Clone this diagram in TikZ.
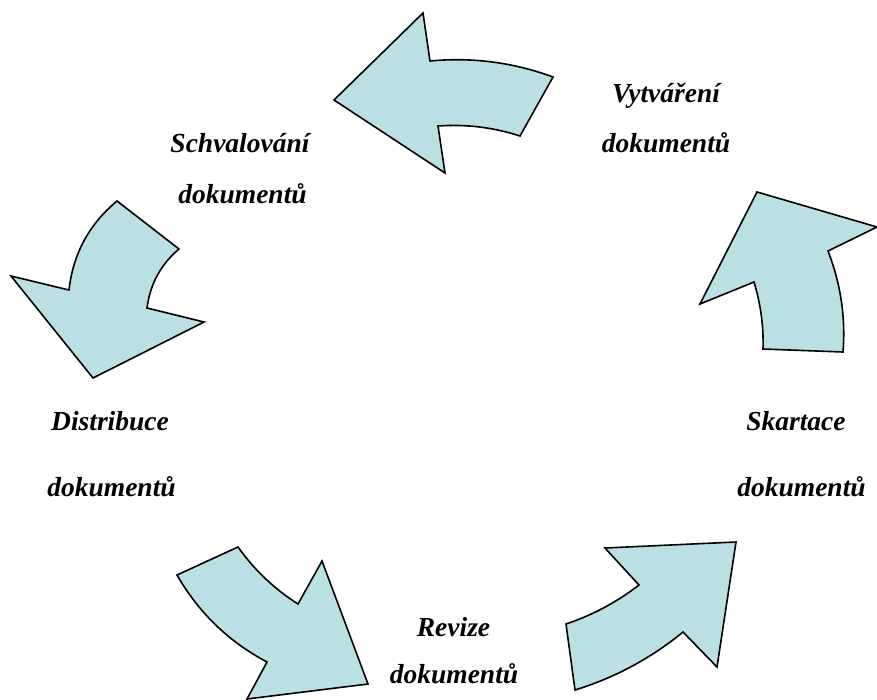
\documentclass[tikz,border=0pt]{standalone}
\usepackage{fontspec}
\setmainfont{Liberation Serif}
\definecolor{arrowfill}{RGB}{187,224,227}
\tikzset{
  cyclearrow/.style={draw=black, fill=arrowfill, line width=1.6pt, line join=miter},
  lbl/.style={font=\fontsize{27.5}{31}\selectfont\bfseries\itshape, inner sep=0pt, anchor=center}
}
\begin{document}
\begin{tikzpicture}[x=1pt,y=-1pt]
\useasboundingbox (0,0) rectangle (877,699);
\clip (0,0) rectangle (877,699);
% top arrow (pointing left)
\draw[cyclearrow] (334,100) -- (423,13) -- (430,61) .. controls (472,57) and (513,62.3) .. (553,77)
  -- (520,136) .. controls (493.3,127.3) and (466,124) .. (438,126) -- (445,173) -- cycle;
% right arrow (pointing up)
\draw[cyclearrow] (757,192) -- (877,227) -- (828,251) .. controls (840.7,283.7) and (845.7,317.3) .. (843,352)
  -- (763,349) .. controls (763.7,326.3) and (760.7,304) .. (754,282) -- (700,304) -- cycle;
% left arrow (pointing down)
\draw[cyclearrow] (117,201) -- (179,249) .. controls (160.7,264.5) and (150.1,284.2) .. (147,308) -- (204,322)
  -- (93,378) -- (11,276) -- (69,290) .. controls (73,254) and (89,224.3) .. cycle;
% bottom-left arrow (pointing down-right)
\draw[cyclearrow] (238,547) .. controls (254.3,569.9) and (274.3,588.9) .. (298,604) -- (322,561) -- (368,684)
  -- (247,699) -- (267,662) .. controls (228.7,641.7) and (198.7,612.7) .. (177,575) -- cycle;
% bottom-right arrow (pointing up-right)
\draw[cyclearrow] (605,548) -- (736,542) -- (717,667) -- (683,632)
  .. controls (650.8,658.4) and (614.8,677.7) .. (575,690) -- (566,624)
  .. controls (592.5,615.1) and (616.9,602.1) .. (639,585) -- cycle;
% labels
\node[lbl] (vyt1) at (666,96) {Vytváření};
\node[lbl] (vyt2) at (666,143) {dokumentů};
\node[lbl] (sch1) at (240,143) {Schvalování};
\node[lbl] (sch2) at (242.5,194) {dokumentů};
\node[lbl] (dis1) at (110,421) {Distribuce};
\node[lbl] (dis2) at (111.5,487) {dokumentů};
\node[lbl] (ska1) at (796,421) {Skartace};
\node[lbl] (ska2) at (801.5,487) {dokumentů};
\node[lbl] (rev1) at (453.5,627) {Revize};
\node[lbl] (rev2) at (454,674) {dokumentů};
\end{tikzpicture}
\end{document}
